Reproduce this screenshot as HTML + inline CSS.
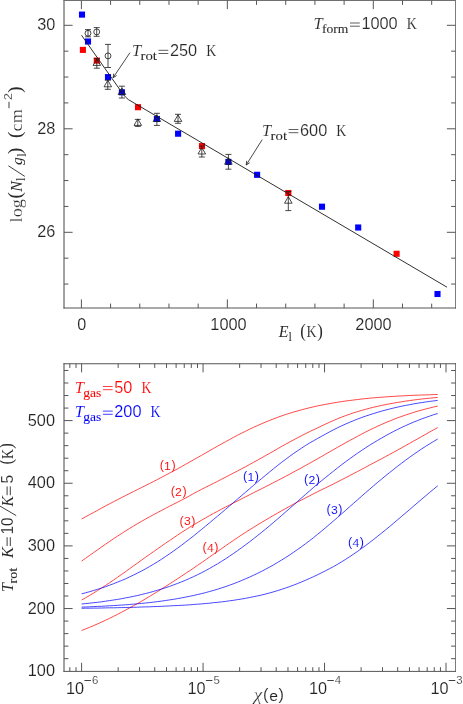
<!DOCTYPE html>
<html><head><meta charset="utf-8"><title>chart</title>
<style>html,body{margin:0;padding:0;background:#fff}svg{display:block;fill:#222}text{font-family:"Liberation Sans",sans-serif}.s{font-family:"Liberation Serif",serif}.i{font-family:"Liberation Serif",serif;font-style:italic}</style></head><body>
<svg width="463" height="704" viewBox="0 0 463 704">
<rect width="463" height="704" fill="#fff"/>
<g style="will-change:transform">
<g id="top">
<path d="M64.0,0.0 V308.5" stroke="#444" stroke-width="1" fill="none"/><path d="M455.5,0.0 V308.5" stroke="#7c7c7c" stroke-width="1" fill="none"/><path d="M63.5,0.5 H456.0" stroke="#707070" stroke-width="1" fill="none"/><path d="M63.5,308.0 H456.0" stroke="#555" stroke-width="1" fill="none"/>
<path d="M81.40,308.0 v-8.6 M81.40,0.5 v8.6 M110.59,308.0 v-4.4 M110.59,0.5 v4.4 M139.78,308.0 v-4.4 M139.78,0.5 v4.4 M168.97,308.0 v-4.4 M168.97,0.5 v4.4 M198.16,308.0 v-4.4 M198.16,0.5 v4.4 M227.35,308.0 v-8.6 M227.35,0.5 v8.6 M256.54,308.0 v-4.4 M256.54,0.5 v4.4 M285.73,308.0 v-4.4 M285.73,0.5 v4.4 M314.92,308.0 v-4.4 M314.92,0.5 v4.4 M344.11,308.0 v-4.4 M344.11,0.5 v4.4 M373.30,308.0 v-8.6 M373.30,0.5 v8.6 M402.49,308.0 v-4.4 M402.49,0.5 v4.4 M431.68,308.0 v-4.4 M431.68,0.5 v4.4 M64.0,25.30 h8.6 M455.5,25.30 h-8.6 M64.0,51.17 h4.4 M455.5,51.17 h-4.4 M64.0,77.05 h4.4 M455.5,77.05 h-4.4 M64.0,102.92 h4.4 M455.5,102.92 h-4.4 M64.0,128.80 h8.6 M455.5,128.80 h-8.6 M64.0,154.68 h4.4 M455.5,154.68 h-4.4 M64.0,180.55 h4.4 M455.5,180.55 h-4.4 M64.0,206.43 h4.4 M455.5,206.43 h-4.4 M64.0,232.30 h8.6 M455.5,232.30 h-8.6 M64.0,258.18 h4.4 M455.5,258.18 h-4.4 M64.0,284.05 h4.4 M455.5,284.05 h-4.4" fill="none" stroke="#555" stroke-width="1.0"/>
<text x="81.8" y="329.9" font-size="15.9" text-anchor="middle" textLength="9.0" lengthAdjust="spacingAndGlyphs" stroke="#fff" stroke-width="0.14">0</text>
<text x="228.5" y="329.9" font-size="15.9" text-anchor="middle" textLength="36.3" lengthAdjust="spacingAndGlyphs" stroke="#fff" stroke-width="0.14">1000</text>
<text x="373.5" y="329.9" font-size="15.9" text-anchor="middle" textLength="36.3" lengthAdjust="spacingAndGlyphs" stroke="#fff" stroke-width="0.14">2000</text>
<text x="55.3" y="30.3" font-size="15.9" text-anchor="end" textLength="18.1" lengthAdjust="spacingAndGlyphs" stroke="#fff" stroke-width="0.14">30</text>
<text x="55.3" y="133.9" font-size="15.9" text-anchor="end" textLength="18.1" lengthAdjust="spacingAndGlyphs" stroke="#fff" stroke-width="0.14">28</text>
<text x="55.3" y="237.4" font-size="15.9" text-anchor="end" textLength="18.1" lengthAdjust="spacingAndGlyphs" stroke="#fff" stroke-width="0.14">26</text>
<rect x="78.95" y="11.55" width="6.1" height="6.1" fill="#0000ff"/>
<rect x="84.95" y="38.45" width="6.1" height="6.1" fill="#0000ff"/>
<rect x="104.95" y="74.05" width="6.1" height="6.1" fill="#0000ff"/>
<rect x="118.85" y="89.25" width="6.1" height="6.1" fill="#0000ff"/>
<rect x="153.85" y="115.95" width="6.1" height="6.1" fill="#0000ff"/>
<rect x="175.05" y="130.65" width="6.1" height="6.1" fill="#0000ff"/>
<rect x="225.35" y="158.85" width="6.1" height="6.1" fill="#0000ff"/>
<rect x="254.05" y="171.75" width="6.1" height="6.1" fill="#0000ff"/>
<rect x="318.95" y="203.65" width="6.1" height="6.1" fill="#0000ff"/>
<rect x="355.15" y="224.45" width="6.1" height="6.1" fill="#0000ff"/>
<rect x="434.45" y="290.95" width="6.1" height="6.1" fill="#0000ff"/>
<rect x="79.85" y="46.85" width="6.1" height="6.1" fill="#ff0000"/>
<rect x="93.75" y="57.55" width="6.1" height="6.1" fill="#ff0000"/>
<rect x="134.95" y="104.15" width="6.1" height="6.1" fill="#ff0000"/>
<rect x="198.95" y="143.05" width="6.1" height="6.1" fill="#ff0000"/>
<rect x="285.25" y="189.95" width="6.1" height="6.1" fill="#ff0000"/>
<rect x="393.55" y="250.75" width="6.1" height="6.1" fill="#ff0000"/>
<path d="M81.5,35.2 L122.6,93.5 Q125.4,97.4 128.5,99.7 L447,287.2" fill="none" stroke="#1a1a1a" stroke-width="0.9"/>
<path d="M88.00,29.60 V36.80 M85.00,29.60 h6.0 M85.00,36.80 h6.0" fill="none" stroke="#1a1a1a" stroke-width="0.8"/>
<circle cx="88" cy="33.2" r="2.95" fill="none" stroke="#1a1a1a" stroke-width="0.8"/>
<path d="M96.70,27.60 V36.30 M93.70,27.60 h6.0 M93.70,36.30 h6.0" fill="none" stroke="#1a1a1a" stroke-width="0.8"/>
<circle cx="96.7" cy="31.9" r="2.95" fill="none" stroke="#1a1a1a" stroke-width="0.8"/>
<path d="M108.00,44.40 V67.50 M105.00,44.40 h6.0 M105.00,67.50 h6.0" fill="none" stroke="#1a1a1a" stroke-width="0.8"/>
<circle cx="108" cy="55.9" r="2.95" fill="none" stroke="#1a1a1a" stroke-width="0.8"/>
<path d="M96.80,58.60 V68.20 M93.80,58.60 h6.0 M93.80,68.20 h6.0" fill="none" stroke="#1a1a1a" stroke-width="0.8"/>
<path d="M96.80,58.90 L100.60,65.40 H93.00 Z" fill="none" stroke="#1a1a1a" stroke-width="0.8"/>
<path d="M107.80,80.20 V89.30 M104.80,80.20 h6.0 M104.80,89.30 h6.0" fill="none" stroke="#1a1a1a" stroke-width="0.8"/>
<path d="M107.80,80.30 L111.60,86.80 H104.00 Z" fill="none" stroke="#1a1a1a" stroke-width="0.8"/>
<path d="M121.90,86.20 V98.00 M118.90,86.20 h6.0 M118.90,98.00 h6.0" fill="none" stroke="#1a1a1a" stroke-width="0.8"/>
<path d="M121.90,88.00 L125.70,94.50 H118.10 Z" fill="none" stroke="#1a1a1a" stroke-width="0.8"/>
<path d="M137.80,119.40 V126.40 M134.80,119.40 h6.0 M134.80,126.40 h6.0" fill="none" stroke="#1a1a1a" stroke-width="0.8"/>
<path d="M137.80,118.90 L141.60,125.40 H134.00 Z" fill="none" stroke="#1a1a1a" stroke-width="0.8"/>
<path d="M156.90,113.30 V125.40 M153.90,113.30 h6.0 M153.90,125.40 h6.0" fill="none" stroke="#1a1a1a" stroke-width="0.8"/>
<path d="M156.90,115.00 L160.70,121.50 H153.10 Z" fill="none" stroke="#1a1a1a" stroke-width="0.8"/>
<path d="M178.00,114.30 V123.30 M175.00,114.30 h6.0 M175.00,123.30 h6.0" fill="none" stroke="#1a1a1a" stroke-width="0.8"/>
<path d="M178.00,114.90 L181.80,121.40 H174.20 Z" fill="none" stroke="#1a1a1a" stroke-width="0.8"/>
<path d="M201.80,146.00 V157.00 M198.80,146.00 h6.0 M198.80,157.00 h6.0" fill="none" stroke="#1a1a1a" stroke-width="0.8"/>
<path d="M201.80,147.50 L205.60,154.00 H198.00 Z" fill="none" stroke="#1a1a1a" stroke-width="0.8"/>
<path d="M228.40,154.40 V169.20 M225.40,154.40 h6.0 M225.40,169.20 h6.0" fill="none" stroke="#1a1a1a" stroke-width="0.8"/>
<path d="M228.40,157.70 L232.20,164.20 H224.60 Z" fill="none" stroke="#1a1a1a" stroke-width="0.8"/>
<path d="M288.30,191.60 V210.60 M285.30,191.60 h6.0 M285.30,210.60 h6.0" fill="none" stroke="#1a1a1a" stroke-width="0.8"/>
<path d="M288.30,196.70 L292.10,203.20 H284.50 Z" fill="none" stroke="#1a1a1a" stroke-width="0.8"/>
<path d="M130,52.6 L113.1,77.7 M113.1,77.7 L116.70,75.53 M113.1,77.7 L113.75,73.55" fill="none" stroke="#1a1a1a" stroke-width="0.8"/>
<path d="M262.2,139.6 L246.2,165 M246.2,165 L249.73,162.73 M246.2,165 L246.73,160.83" fill="none" stroke="#1a1a1a" stroke-width="0.8"/>
<g fill="#2a2a2a" font-size="16" class="s"><text x="131.9" y="56.4" class="i" font-size="16.5" stroke="#fff" stroke-width="0.1">T</text><text x="140.5" y="60.3" font-size="13.5" class="s" textLength="16.4" lengthAdjust="spacingAndGlyphs" stroke="#2a2a2a" stroke-width="0.08">rot</text><path d="M158.5,50.3 h9.8 M158.5,53.5 h9.8" stroke="#2a2a2a" stroke-width="0.75" fill="none"/><text x="169.9" y="56.4" font-size="15.9" style="font-family:'Liberation Sans',sans-serif"  textLength="27.2" lengthAdjust="spacingAndGlyphs" stroke="#fff" stroke-width="0.14">250</text><text x="206.2" y="56.4" font-size="16.3" class="s" textLength="10" lengthAdjust="spacingAndGlyphs" stroke="#fff" stroke-width="0.1">K</text></g>
<g fill="#2a2a2a" font-size="16" class="s"><text x="262.0" y="135.6" class="i" font-size="16.5" stroke="#fff" stroke-width="0.1">T</text><text x="270.6" y="139.5" font-size="13.5" class="s" textLength="16.4" lengthAdjust="spacingAndGlyphs" stroke="#2a2a2a" stroke-width="0.08">rot</text><path d="M288.6,129.5 h9.8 M288.6,132.7 h9.8" stroke="#2a2a2a" stroke-width="0.75" fill="none"/><text x="300.0" y="135.6" font-size="15.9" style="font-family:'Liberation Sans',sans-serif"  textLength="27.2" lengthAdjust="spacingAndGlyphs" stroke="#fff" stroke-width="0.14">600</text><text x="336.3" y="135.6" font-size="16.3" class="s" textLength="10" lengthAdjust="spacingAndGlyphs" stroke="#fff" stroke-width="0.1">K</text></g>
<g fill="#2a2a2a" font-size="16" class="s"><text x="313.4" y="29.1" class="i" font-size="16.5" stroke="#fff" stroke-width="0.1">T</text><text x="322.0" y="33.0" font-size="13.5" class="s" textLength="26.4" lengthAdjust="spacingAndGlyphs" stroke="#2a2a2a" stroke-width="0.08">form</text><path d="M350.0,23.0 h9.8 M350.0,26.200000000000003 h9.8" stroke="#2a2a2a" stroke-width="0.75" fill="none"/><text x="361.4" y="29.1" font-size="15.9" style="font-family:'Liberation Sans',sans-serif"  textLength="36.3" lengthAdjust="spacingAndGlyphs" stroke="#fff" stroke-width="0.14">1000</text><text x="406.8" y="29.1" font-size="16.3" class="s" textLength="10" lengthAdjust="spacingAndGlyphs" stroke="#fff" stroke-width="0.1">K</text></g>
<g class="s" fill="#2a2a2a"><text x="278.8" y="337.4" font-size="16" class="i">E</text><text x="288.4" y="340.9" font-size="12" class="s">l</text><text x="300.2" y="336.6" font-size="18" class="s" textLength="5.6" lengthAdjust="spacingAndGlyphs">(</text><text x="306.4" y="337.4" font-size="16.3" class="s" textLength="10" lengthAdjust="spacingAndGlyphs" stroke="#fff" stroke-width="0.1">K</text><text x="317.2" y="336.6" font-size="18" class="s" textLength="5.6" lengthAdjust="spacingAndGlyphs">)</text></g>
<g transform="translate(21.8,222.4) rotate(-90)" fill="#2a2a2a"><text x="0" y="0" font-size="16" class="s" textLength="23.4" lengthAdjust="spacingAndGlyphs" stroke="#fff" stroke-width="0.2">log</text><text x="24.0" y="-0.8" font-size="18" class="s" textLength="6.4" lengthAdjust="spacingAndGlyphs">(</text><text x="30.6" y="0" font-size="16" class="i" textLength="10.6" lengthAdjust="spacingAndGlyphs">N</text><text x="41.4" y="3.4" font-size="12" class="s">l</text><path d="M46.0,3.0 L56.6,-13.4" stroke="#2a2a2a" stroke-width="0.9" fill="none"/><text x="57.4" y="0" font-size="15.5" class="i" textLength="7.8" lengthAdjust="spacingAndGlyphs">g</text><text x="65.6" y="3.8" font-size="12" class="s">l</text><text x="68.4" y="-0.8" font-size="18" class="s" textLength="6.2" lengthAdjust="spacingAndGlyphs">)</text><text x="84.4" y="-0.8" font-size="18" class="s" textLength="6.4" lengthAdjust="spacingAndGlyphs">(</text><text x="91.0" y="0" font-size="17" class="s" textLength="22.2" lengthAdjust="spacingAndGlyphs" stroke="#fff" stroke-width="0.2">cm</text><path d="M114.2,-12.8 h6.4" stroke="#2a2a2a" stroke-width="0.9" fill="none"/><text x="122.2" y="-9.6" font-size="11.5" class="s" textLength="7.2" lengthAdjust="spacingAndGlyphs" style="font-family:'Liberation Sans',sans-serif" stroke="#fff" stroke-width="0.14">2</text><text x="129.6" y="-0.8" font-size="18" class="s" textLength="6.2" lengthAdjust="spacingAndGlyphs">)</text></g>
</g>
<g id="bot">
<path d="M64.0,363.25 V671.9" stroke="#444" stroke-width="1" fill="none"/><path d="M455.5,363.25 V671.9" stroke="#7c7c7c" stroke-width="1" fill="none"/><path d="M63.5,363.75 H456.0" stroke="#555" stroke-width="1" fill="none"/><path d="M63.5,671.4 H456.0" stroke="#555" stroke-width="1" fill="none"/>
<path d="M69.83,671.4 v-4.2 M69.83,363.75 v4.2 M76.04,671.4 v-4.2 M76.04,363.75 v4.2 M81.60,671.4 v-8.6 M81.60,363.75 v8.6 M118.17,671.4 v-4.2 M118.17,363.75 v4.2 M139.56,671.4 v-4.2 M139.56,363.75 v4.2 M154.73,671.4 v-4.2 M154.73,363.75 v4.2 M166.50,671.4 v-4.2 M166.50,363.75 v4.2 M176.12,671.4 v-4.2 M176.12,363.75 v4.2 M184.25,671.4 v-4.2 M184.25,363.75 v4.2 M191.30,671.4 v-4.2 M191.30,363.75 v4.2 M197.51,671.4 v-4.2 M197.51,363.75 v4.2 M203.07,671.4 v-8.6 M203.07,363.75 v8.6 M239.64,671.4 v-4.2 M239.64,363.75 v4.2 M261.03,671.4 v-4.2 M261.03,363.75 v4.2 M276.20,671.4 v-4.2 M276.20,363.75 v4.2 M287.97,671.4 v-4.2 M287.97,363.75 v4.2 M297.59,671.4 v-4.2 M297.59,363.75 v4.2 M305.72,671.4 v-4.2 M305.72,363.75 v4.2 M312.77,671.4 v-4.2 M312.77,363.75 v4.2 M318.98,671.4 v-4.2 M318.98,363.75 v4.2 M324.54,671.4 v-8.6 M324.54,363.75 v8.6 M361.11,671.4 v-4.2 M361.11,363.75 v4.2 M382.50,671.4 v-4.2 M382.50,363.75 v4.2 M397.67,671.4 v-4.2 M397.67,363.75 v4.2 M409.44,671.4 v-4.2 M409.44,363.75 v4.2 M419.06,671.4 v-4.2 M419.06,363.75 v4.2 M427.19,671.4 v-4.2 M427.19,363.75 v4.2 M434.24,671.4 v-4.2 M434.24,363.75 v4.2 M440.45,671.4 v-4.2 M440.45,363.75 v4.2 M446.01,671.4 v-8.6 M446.01,363.75 v8.6 M64.0,658.67 h4.4 M455.5,658.67 h-4.4 M64.0,646.14 h4.4 M455.5,646.14 h-4.4 M64.0,633.61 h4.4 M455.5,633.61 h-4.4 M64.0,621.08 h4.4 M455.5,621.08 h-4.4 M64.0,608.55 h8.6 M455.5,608.55 h-8.6 M64.0,596.02 h4.4 M455.5,596.02 h-4.4 M64.0,583.49 h4.4 M455.5,583.49 h-4.4 M64.0,570.96 h4.4 M455.5,570.96 h-4.4 M64.0,558.43 h4.4 M455.5,558.43 h-4.4 M64.0,545.90 h8.6 M455.5,545.90 h-8.6 M64.0,533.37 h4.4 M455.5,533.37 h-4.4 M64.0,520.84 h4.4 M455.5,520.84 h-4.4 M64.0,508.31 h4.4 M455.5,508.31 h-4.4 M64.0,495.78 h4.4 M455.5,495.78 h-4.4 M64.0,483.25 h8.6 M455.5,483.25 h-8.6 M64.0,470.72 h4.4 M455.5,470.72 h-4.4 M64.0,458.19 h4.4 M455.5,458.19 h-4.4 M64.0,445.66 h4.4 M455.5,445.66 h-4.4 M64.0,433.13 h4.4 M455.5,433.13 h-4.4 M64.0,420.60 h8.6 M455.5,420.60 h-8.6 M64.0,408.07 h4.4 M455.5,408.07 h-4.4 M64.0,395.54 h4.4 M455.5,395.54 h-4.4 M64.0,383.01 h4.4 M455.5,383.01 h-4.4 M64.0,370.48 h4.4 M455.5,370.48 h-4.4" fill="none" stroke="#555" stroke-width="1.0"/>
<text x="55" y="676.2" font-size="15.9" text-anchor="end" textLength="27.2" lengthAdjust="spacingAndGlyphs" stroke="#fff" stroke-width="0.14">100</text>
<text x="55" y="613.6" font-size="15.9" text-anchor="end" textLength="27.2" lengthAdjust="spacingAndGlyphs" stroke="#fff" stroke-width="0.14">200</text>
<text x="55" y="550.9" font-size="15.9" text-anchor="end" textLength="27.2" lengthAdjust="spacingAndGlyphs" stroke="#fff" stroke-width="0.14">300</text>
<text x="55" y="488.3" font-size="15.9" text-anchor="end" textLength="27.2" lengthAdjust="spacingAndGlyphs" stroke="#fff" stroke-width="0.14">400</text>
<text x="55" y="425.6" font-size="15.9" text-anchor="end" textLength="27.2" lengthAdjust="spacingAndGlyphs" stroke="#fff" stroke-width="0.14">500</text>
<text x="66.0" y="693.5" font-size="15.9" textLength="18.1" lengthAdjust="spacingAndGlyphs" stroke="#fff" stroke-width="0.14">10</text><path d="M84.4,680.5 h6.5" stroke="#2a2a2a" stroke-width="0.9" fill="none"/><text x="91.9" y="684.4" font-size="11.4" stroke="#fff" stroke-width="0.2">6</text>
<text x="187.5" y="693.5" font-size="15.9" textLength="18.1" lengthAdjust="spacingAndGlyphs" stroke="#fff" stroke-width="0.14">10</text><path d="M205.9,680.5 h6.5" stroke="#2a2a2a" stroke-width="0.9" fill="none"/><text x="213.4" y="684.4" font-size="11.4" stroke="#fff" stroke-width="0.2">5</text>
<text x="308.9" y="693.5" font-size="15.9" textLength="18.1" lengthAdjust="spacingAndGlyphs" stroke="#fff" stroke-width="0.14">10</text><path d="M327.3,680.5 h6.5" stroke="#2a2a2a" stroke-width="0.9" fill="none"/><text x="334.8" y="684.4" font-size="11.4" stroke="#fff" stroke-width="0.2">4</text>
<text x="430.4" y="693.5" font-size="15.9" textLength="18.1" lengthAdjust="spacingAndGlyphs" stroke="#fff" stroke-width="0.14">10</text><path d="M448.8,680.5 h6.5" stroke="#2a2a2a" stroke-width="0.9" fill="none"/><text x="456.3" y="684.4" font-size="11.4" stroke="#fff" stroke-width="0.2">3</text>
<path d="M81.6,519.0 L85.6,516.8 L89.6,514.6 L93.6,512.5 L97.6,510.3 L101.6,508.1 L105.6,505.9 L109.6,503.8 L113.6,501.7 L117.6,499.6 L121.6,497.6 L125.6,495.5 L129.6,493.5 L133.6,491.5 L137.6,489.5 L141.6,487.5 L145.6,485.5 L149.6,483.5 L153.6,481.5 L157.6,479.4 L161.6,477.3 L165.6,475.2 L169.6,473.1 L173.6,471.0 L177.6,468.8 L181.6,466.6 L185.6,464.3 L189.6,462.1 L193.6,459.8 L197.6,457.5 L201.6,455.3 L205.6,453.0 L209.6,450.7 L213.6,448.4 L217.6,446.1 L221.6,443.9 L225.6,441.7 L229.6,439.5 L233.6,437.3 L237.6,435.2 L241.6,433.2 L245.6,431.2 L249.6,429.2 L253.6,427.3 L257.6,425.5 L261.7,423.7 L265.7,422.0 L269.7,420.4 L273.7,418.8 L277.7,417.3 L281.7,415.9 L285.7,414.5 L289.7,413.3 L293.7,412.0 L297.7,410.9 L301.7,409.8 L305.7,408.7 L309.7,407.7 L313.7,406.8 L317.7,405.9 L321.7,405.1 L325.7,404.3 L329.7,403.6 L333.7,402.9 L337.7,402.2 L341.7,401.6 L345.7,401.0 L349.7,400.5 L353.7,400.0 L357.7,399.5 L361.7,399.0 L365.7,398.6 L369.7,398.2 L373.7,397.8 L377.7,397.5 L381.7,397.2 L385.7,396.9 L389.7,396.6 L393.7,396.4 L397.7,396.1 L401.7,395.9 L405.7,395.7 L409.7,395.5 L413.7,395.3 L417.7,395.2 L421.7,395.0 L425.7,394.9 L429.7,394.8 L433.7,394.6 L437.7,394.5" fill="none" stroke="#ff0000" stroke-width="0.72" stroke-linejoin="round"/>
<path d="M81.6,561.1 L85.6,558.3 L89.6,555.4 L93.6,552.6 L97.6,549.8 L101.6,547.0 L105.6,544.2 L109.6,541.4 L113.6,538.7 L117.6,536.1 L121.6,533.5 L125.6,530.9 L129.6,528.4 L133.6,526.0 L137.6,523.6 L141.6,521.3 L145.6,519.0 L149.6,516.8 L153.6,514.6 L157.6,512.5 L161.6,510.4 L165.6,508.3 L169.6,506.2 L173.6,504.2 L177.6,502.2 L181.6,500.1 L185.6,498.0 L189.6,495.8 L193.6,493.5 L197.6,491.4 L201.6,489.3 L205.6,487.3 L209.6,485.3 L213.6,483.3 L217.6,481.3 L221.6,479.2 L225.6,477.2 L229.6,475.1 L233.6,473.0 L237.6,470.9 L241.6,468.8 L245.6,466.7 L249.6,464.5 L253.6,462.3 L257.6,460.1 L261.7,457.8 L265.7,455.5 L269.7,453.3 L273.7,451.0 L277.7,448.7 L281.7,446.4 L285.7,444.2 L289.7,442.0 L293.7,439.8 L297.7,437.7 L301.7,435.6 L305.7,433.6 L309.7,431.6 L313.7,429.7 L317.7,427.8 L321.7,425.9 L325.7,424.0 L329.7,422.2 L333.7,420.4 L337.7,418.7 L341.7,417.1 L345.7,415.6 L349.7,414.2 L353.7,412.8 L357.7,411.6 L361.7,410.4 L365.7,409.3 L369.7,408.2 L373.7,407.2 L377.7,406.3 L381.7,405.4 L385.7,404.6 L389.7,403.8 L393.7,403.1 L397.7,402.4 L401.7,401.8 L405.7,401.1 L409.7,400.6 L413.7,400.0 L417.7,399.5 L421.7,399.0 L425.7,398.6 L429.7,398.2 L433.7,397.8 L437.7,397.4" fill="none" stroke="#ff0000" stroke-width="0.72" stroke-linejoin="round"/>
<path d="M81.6,600.0 L85.6,597.8 L89.6,595.4 L93.6,593.0 L97.6,590.5 L101.6,588.0 L105.6,585.4 L109.6,582.7 L113.6,580.0 L117.6,577.2 L121.6,574.4 L125.6,571.6 L129.6,568.7 L133.6,565.8 L137.6,563.0 L141.6,560.1 L145.6,557.2 L149.6,554.4 L153.6,551.6 L157.6,548.8 L161.6,546.0 L165.6,543.2 L169.6,540.5 L173.6,537.8 L177.6,535.1 L181.6,532.4 L185.6,529.9 L189.6,527.3 L193.6,524.9 L197.6,522.5 L201.6,520.2 L205.6,517.9 L209.6,515.6 L213.6,513.4 L217.6,511.3 L221.6,509.1 L225.6,507.0 L229.6,505.0 L233.6,502.9 L237.6,500.9 L241.6,498.8 L245.6,496.8 L249.6,494.8 L253.6,492.7 L257.6,490.7 L261.7,488.7 L265.7,486.6 L269.7,484.6 L273.7,482.5 L277.7,480.5 L281.7,478.4 L285.7,476.3 L289.7,474.2 L293.7,472.0 L297.7,469.8 L301.7,467.7 L305.7,465.4 L309.7,463.2 L313.7,461.0 L317.7,458.7 L321.7,456.4 L325.7,454.1 L329.7,451.8 L333.7,449.5 L337.7,447.2 L341.7,445.0 L345.7,442.7 L349.7,440.5 L353.7,438.4 L357.7,436.2 L361.7,434.1 L365.7,432.0 L369.7,430.0 L373.7,428.1 L377.7,426.2 L381.7,424.4 L385.7,422.6 L389.7,421.0 L393.7,419.4 L397.7,417.8 L401.7,416.4 L405.7,415.0 L409.7,413.7 L413.7,412.4 L417.7,411.2 L421.7,410.1 L425.7,409.0 L429.7,408.0 L433.7,407.0 L437.7,406.1" fill="none" stroke="#ff0000" stroke-width="0.72" stroke-linejoin="round"/>
<path d="M81.6,630.5 L85.6,628.9 L89.6,627.3 L93.6,625.6 L97.6,623.9 L101.6,622.1 L105.6,620.2 L109.6,618.3 L113.6,616.3 L117.6,614.3 L121.6,612.2 L125.6,610.1 L129.6,607.9 L133.6,605.7 L137.6,603.5 L141.6,601.2 L145.6,598.8 L149.6,596.4 L153.6,594.0 L157.6,591.5 L161.6,589.0 L165.6,586.5 L169.6,583.9 L173.6,581.3 L177.6,578.7 L181.6,576.1 L185.6,573.4 L189.6,570.8 L193.6,568.1 L197.6,565.3 L201.6,562.6 L205.6,559.8 L209.6,557.0 L213.6,554.2 L217.6,551.4 L221.6,548.6 L225.6,545.8 L229.6,543.0 L233.6,540.3 L237.6,537.6 L241.6,534.9 L245.6,532.3 L249.6,529.8 L253.6,527.3 L257.6,524.8 L261.7,522.4 L265.7,520.0 L269.7,517.6 L273.7,515.3 L277.7,513.0 L281.7,510.7 L285.7,508.5 L289.7,506.3 L293.7,504.1 L297.7,502.0 L301.7,499.9 L305.7,497.8 L309.7,495.8 L313.7,493.7 L317.7,491.7 L321.7,489.7 L325.7,487.8 L329.7,485.8 L333.7,483.8 L337.7,481.8 L341.7,479.7 L345.7,477.7 L349.7,475.6 L353.7,473.5 L357.7,471.4 L361.7,469.3 L365.7,467.2 L369.7,465.0 L373.7,462.9 L377.7,460.8 L381.7,458.7 L385.7,456.5 L389.7,454.3 L393.7,452.2 L397.7,450.0 L401.7,447.8 L405.7,445.5 L409.7,443.3 L413.7,441.0 L417.7,438.8 L421.7,436.5 L425.7,434.3 L429.7,432.0 L433.7,429.8 L437.7,427.6" fill="none" stroke="#ff0000" stroke-width="0.72" stroke-linejoin="round"/>
<path d="M81.6,593.8 L85.6,592.8 L89.6,591.7 L93.6,590.5 L97.6,589.3 L101.6,588.0 L105.6,586.7 L109.6,585.2 L113.6,583.7 L117.6,582.1 L121.6,580.5 L125.6,578.8 L129.6,576.9 L133.6,575.0 L137.6,573.0 L141.6,571.0 L145.6,568.8 L149.6,566.5 L153.6,564.2 L157.6,561.7 L161.6,559.2 L165.6,556.5 L169.6,553.8 L173.6,551.0 L177.6,548.1 L181.6,545.2 L185.6,542.1 L189.6,539.0 L193.6,535.9 L197.6,532.6 L201.6,529.4 L205.6,526.1 L209.6,522.8 L213.6,519.4 L217.6,516.1 L221.6,512.7 L225.6,509.3 L229.6,505.9 L233.6,502.4 L237.6,499.0 L241.6,495.6 L245.6,492.2 L249.6,488.7 L253.6,485.3 L257.6,481.9 L261.7,478.5 L265.7,475.2 L269.7,471.9 L273.7,468.6 L277.7,465.4 L281.7,462.3 L285.7,459.3 L289.7,456.3 L293.7,453.4 L297.7,450.7 L301.7,448.0 L305.7,445.4 L309.7,442.9 L313.7,440.7 L317.7,438.4 L321.7,436.2 L325.7,434.0 L329.7,431.8 L333.7,429.7 L337.7,427.7 L341.7,425.8 L345.7,424.0 L349.7,422.3 L353.7,420.6 L357.7,419.0 L361.7,417.5 L365.7,416.1 L369.7,414.8 L373.7,413.5 L377.7,412.3 L381.7,411.1 L385.7,410.0 L389.7,409.0 L393.7,408.0 L397.7,407.1 L401.7,406.2 L405.7,405.4 L409.7,404.7 L413.7,403.9 L417.7,403.2 L421.7,402.6 L425.7,402.0 L429.7,401.4 L433.7,400.9 L437.7,400.4" fill="none" stroke="#0000ff" stroke-width="0.72" stroke-linejoin="round"/>
<path d="M81.6,604.0 L85.6,603.6 L89.6,603.2 L93.6,602.7 L97.6,602.3 L101.6,601.8 L105.6,601.2 L109.6,600.6 L113.6,600.0 L117.6,599.4 L121.6,598.7 L125.6,597.9 L129.6,597.2 L133.6,596.3 L137.6,595.5 L141.6,594.5 L145.6,593.5 L149.6,592.5 L153.6,591.4 L157.6,590.2 L161.6,589.0 L165.6,587.7 L169.6,586.4 L173.6,584.9 L177.6,583.4 L181.6,581.8 L185.6,580.2 L189.6,578.4 L193.6,576.6 L197.6,574.7 L201.6,572.7 L205.6,570.6 L209.6,568.4 L213.6,566.1 L217.6,563.8 L221.6,561.3 L225.6,558.8 L229.6,556.1 L233.6,553.4 L237.6,550.6 L241.6,547.7 L245.6,544.8 L249.6,541.8 L253.6,538.7 L257.6,535.5 L261.7,532.3 L265.7,529.0 L269.7,525.7 L273.7,522.3 L277.7,518.9 L281.7,515.4 L285.7,511.9 L289.7,508.4 L293.7,504.9 L297.7,501.3 L301.7,497.8 L305.7,494.3 L309.7,490.8 L313.7,487.3 L317.7,483.8 L321.7,480.6 L325.7,477.4 L329.7,474.2 L333.7,471.0 L337.7,467.8 L341.7,464.7 L345.7,461.7 L349.7,458.8 L353.7,455.9 L357.7,453.1 L361.7,450.4 L365.7,447.7 L369.7,445.2 L373.7,442.7 L377.7,440.3 L381.7,438.0 L385.7,435.7 L389.7,433.5 L393.7,431.4 L397.7,429.4 L401.7,427.4 L405.7,425.6 L409.7,423.8 L413.7,422.1 L417.7,420.5 L421.7,418.9 L425.7,417.5 L429.7,416.1 L433.7,414.7 L437.7,413.5" fill="none" stroke="#0000ff" stroke-width="0.72" stroke-linejoin="round"/>
<path d="M81.6,607.1 L85.6,607.0 L89.6,606.8 L93.6,606.6 L97.6,606.4 L101.6,606.3 L105.6,606.0 L109.6,605.8 L113.6,605.6 L117.6,605.3 L121.6,605.1 L125.6,604.8 L129.6,604.5 L133.6,604.1 L137.6,603.8 L141.6,603.4 L145.6,603.0 L149.6,602.6 L153.6,602.1 L157.6,601.6 L161.6,601.1 L165.6,600.5 L169.6,599.9 L173.6,599.3 L177.6,598.6 L181.6,597.9 L185.6,597.1 L189.6,596.3 L193.6,595.5 L197.6,594.5 L201.6,593.6 L205.6,592.6 L209.6,591.5 L213.6,590.4 L217.6,589.2 L221.6,587.9 L225.6,586.6 L229.6,585.2 L233.6,583.7 L237.6,582.2 L241.6,580.5 L245.6,578.8 L249.6,577.1 L253.6,575.2 L257.6,573.3 L261.7,571.3 L265.7,569.2 L269.7,567.0 L273.7,564.8 L277.7,562.4 L281.7,560.0 L285.7,557.5 L289.7,554.9 L293.7,552.2 L297.7,549.4 L301.7,546.6 L305.7,543.6 L309.7,540.6 L313.7,537.5 L317.7,534.2 L321.7,531.0 L325.7,527.6 L329.7,524.2 L333.7,520.8 L337.7,517.3 L341.7,513.8 L345.7,510.3 L349.7,506.7 L353.7,503.2 L357.7,499.7 L361.7,496.1 L365.7,492.6 L369.7,489.2 L373.7,485.7 L377.7,482.3 L381.7,479.0 L385.7,475.7 L389.7,472.5 L393.7,469.3 L397.7,466.2 L401.7,463.1 L405.7,460.1 L409.7,457.2 L413.7,454.4 L417.7,451.6 L421.7,448.9 L425.7,446.3 L429.7,443.8 L433.7,441.4 L437.7,439.0" fill="none" stroke="#0000ff" stroke-width="0.72" stroke-linejoin="round"/>
<path d="M81.6,608.3 L85.6,608.2 L89.6,608.2 L93.6,608.1 L97.6,608.1 L101.6,608.0 L105.6,607.9 L109.6,607.8 L113.6,607.8 L117.6,607.7 L121.6,607.6 L125.6,607.5 L129.6,607.4 L133.6,607.3 L137.6,607.2 L141.6,607.0 L145.6,606.9 L149.6,606.8 L153.6,606.6 L157.6,606.5 L161.6,606.3 L165.6,606.1 L169.6,605.9 L173.6,605.7 L177.6,605.5 L181.6,605.3 L185.6,605.1 L189.6,604.8 L193.6,604.5 L197.6,604.2 L201.6,603.9 L205.6,603.5 L209.6,603.2 L213.6,602.7 L217.6,602.3 L221.6,601.9 L225.6,601.4 L229.6,600.8 L233.6,600.3 L237.6,599.6 L241.6,599.0 L245.6,598.3 L249.6,597.5 L253.6,596.7 L257.6,595.9 L261.7,595.0 L265.7,594.0 L269.7,592.9 L273.7,591.8 L277.7,590.6 L281.7,589.3 L285.7,588.0 L289.7,586.6 L293.7,585.1 L297.7,583.5 L301.7,581.9 L305.7,580.2 L309.7,578.4 L313.7,576.6 L317.7,574.7 L321.7,572.7 L325.7,570.7 L329.7,568.6 L333.7,566.5 L337.7,564.2 L341.7,561.8 L345.7,559.3 L349.7,556.7 L353.7,554.0 L357.7,551.3 L361.7,548.4 L365.7,545.5 L369.7,542.5 L373.7,539.4 L377.7,536.2 L381.7,533.0 L385.7,529.8 L389.7,526.5 L393.7,523.1 L397.7,519.7 L401.7,516.3 L405.7,512.9 L409.7,509.5 L413.7,506.0 L417.7,502.6 L421.7,499.2 L425.7,495.8 L429.7,492.4 L433.7,489.1 L437.7,485.8" fill="none" stroke="#0000ff" stroke-width="0.72" stroke-linejoin="round"/>
<g fill="#ff0000" style="font-family:'Liberation Sans',sans-serif"><text x="159.7" y="469.1" font-size="12.6" stroke="#fff" stroke-width="0.08">(</text><text x="167.4" y="469.8" font-size="11.2" text-anchor="middle" textLength="6.8" lengthAdjust="spacingAndGlyphs" stroke="#fff" stroke-width="0.08">1</text><text x="171.4" y="469.1" font-size="12.6" stroke="#fff" stroke-width="0.08">)</text></g>
<g fill="#ff0000" style="font-family:'Liberation Sans',sans-serif"><text x="170.7" y="495.2" font-size="12.6" stroke="#fff" stroke-width="0.08">(</text><text x="178.4" y="495.9" font-size="11.2" text-anchor="middle" textLength="6.8" lengthAdjust="spacingAndGlyphs" stroke="#fff" stroke-width="0.08">2</text><text x="182.4" y="495.2" font-size="12.6" stroke="#fff" stroke-width="0.08">)</text></g>
<g fill="#ff0000" style="font-family:'Liberation Sans',sans-serif"><text x="179.6" y="524.5" font-size="12.6" stroke="#fff" stroke-width="0.08">(</text><text x="187.3" y="525.2" font-size="11.2" text-anchor="middle" textLength="6.8" lengthAdjust="spacingAndGlyphs" stroke="#fff" stroke-width="0.08">3</text><text x="191.3" y="524.5" font-size="12.6" stroke="#fff" stroke-width="0.08">)</text></g>
<g fill="#ff0000" style="font-family:'Liberation Sans',sans-serif"><text x="202.6" y="551.1" font-size="12.6" stroke="#fff" stroke-width="0.08">(</text><text x="210.3" y="551.8" font-size="11.2" text-anchor="middle" textLength="6.8" lengthAdjust="spacingAndGlyphs" stroke="#fff" stroke-width="0.08">4</text><text x="214.3" y="551.1" font-size="12.6" stroke="#fff" stroke-width="0.08">)</text></g>
<g fill="#0000ff" style="font-family:'Liberation Sans',sans-serif"><text x="243.1" y="480.3" font-size="12.6" stroke="#fff" stroke-width="0.08">(</text><text x="250.8" y="481.0" font-size="11.2" text-anchor="middle" textLength="6.8" lengthAdjust="spacingAndGlyphs" stroke="#fff" stroke-width="0.08">1</text><text x="254.8" y="480.3" font-size="12.6" stroke="#fff" stroke-width="0.08">)</text></g>
<g fill="#0000ff" style="font-family:'Liberation Sans',sans-serif"><text x="304.1" y="482.8" font-size="12.6" stroke="#fff" stroke-width="0.08">(</text><text x="311.8" y="483.5" font-size="11.2" text-anchor="middle" textLength="6.8" lengthAdjust="spacingAndGlyphs" stroke="#fff" stroke-width="0.08">2</text><text x="315.8" y="482.8" font-size="12.6" stroke="#fff" stroke-width="0.08">)</text></g>
<g fill="#0000ff" style="font-family:'Liberation Sans',sans-serif"><text x="326.6" y="512.8" font-size="12.6" stroke="#fff" stroke-width="0.08">(</text><text x="334.3" y="513.5" font-size="11.2" text-anchor="middle" textLength="6.8" lengthAdjust="spacingAndGlyphs" stroke="#fff" stroke-width="0.08">3</text><text x="338.3" y="512.8" font-size="12.6" stroke="#fff" stroke-width="0.08">)</text></g>
<g fill="#0000ff" style="font-family:'Liberation Sans',sans-serif"><text x="348.1" y="546.3" font-size="12.6" stroke="#fff" stroke-width="0.08">(</text><text x="355.8" y="547.0" font-size="11.2" text-anchor="middle" textLength="6.8" lengthAdjust="spacingAndGlyphs" stroke="#fff" stroke-width="0.08">4</text><text x="359.8" y="546.3" font-size="12.6" stroke="#fff" stroke-width="0.08">)</text></g>
<g fill="#ff0000" font-size="16" class="s"><text x="74.7" y="392.6" class="i" font-size="16.5" stroke="#fff" stroke-width="0.1">T</text><text x="83.3" y="396.5" font-size="13.5" class="s" textLength="18.0" lengthAdjust="spacingAndGlyphs" stroke="#ff0000" stroke-width="0.08">gas</text><path d="M102.9,386.5 h9.8 M102.9,389.70000000000005 h9.8" stroke="#ff0000" stroke-width="0.75" fill="none"/><text x="114.3" y="392.6" font-size="15.9" style="font-family:'Liberation Sans',sans-serif"  textLength="18.1" lengthAdjust="spacingAndGlyphs" stroke="#fff" stroke-width="0.14">50</text><text x="141.5" y="392.6" font-size="16.3" class="s" textLength="10" lengthAdjust="spacingAndGlyphs" stroke="#fff" stroke-width="0.1">K</text></g>
<g fill="#0000ff" font-size="16" class="s"><text x="74.7" y="417.2" class="i" font-size="16.5" stroke="#fff" stroke-width="0.1">T</text><text x="83.3" y="421.09999999999997" font-size="13.5" class="s" textLength="18.0" lengthAdjust="spacingAndGlyphs" stroke="#0000ff" stroke-width="0.08">gas</text><path d="M102.9,411.09999999999997 h9.8 M102.9,414.3 h9.8" stroke="#0000ff" stroke-width="0.75" fill="none"/><text x="114.3" y="417.2" font-size="15.9" style="font-family:'Liberation Sans',sans-serif"  textLength="27.2" lengthAdjust="spacingAndGlyphs" stroke="#fff" stroke-width="0.14">200</text><text x="150.6" y="417.2" font-size="16.3" class="s" textLength="10" lengthAdjust="spacingAndGlyphs" stroke="#fff" stroke-width="0.1">K</text></g>
<text x="253.8" y="700.4" font-size="16.5" class="i" textLength="8.6" lengthAdjust="spacingAndGlyphs" stroke="#fff" stroke-width="0.25">χ</text><text x="263.0" y="700.4" font-size="16" style="font-family:'Liberation Sans',sans-serif" textLength="5.4" lengthAdjust="spacingAndGlyphs" stroke="#fff" stroke-width="0.14">(</text><text x="269.2" y="700.5" font-size="14.6" style="font-family:'Liberation Sans',sans-serif" textLength="8.8" lengthAdjust="spacingAndGlyphs" stroke="#fff" stroke-width="0.14">e</text><text x="278.4" y="700.4" font-size="16" style="font-family:'Liberation Sans',sans-serif" textLength="5.4" lengthAdjust="spacingAndGlyphs" stroke="#fff" stroke-width="0.14">)</text>
<g transform="translate(13.2,592.0) rotate(-90)" fill="#2a2a2a"><text x="0" y="0" font-size="16" class="i">T</text><text x="8.4" y="4.2" font-size="13.5" class="s" textLength="15.8" lengthAdjust="spacingAndGlyphs" stroke="#2a2a2a" stroke-width="0.08">rot</text><text x="34.0" y="0" font-size="16" class="i" textLength="11" lengthAdjust="spacingAndGlyphs">K</text><path d="M46.0,-6.1 h8.8 M46.0,-2.9 h8.8" stroke="#2a2a2a" stroke-width="0.9" fill="none"/><text x="57.4" y="0" font-size="15.9" class="s" textLength="17.0" lengthAdjust="spacingAndGlyphs" style="font-family:'Liberation Sans',sans-serif" stroke="#fff" stroke-width="0.14">10</text><path d="M76.4,3.0 L86.0,-13.4" stroke="#2a2a2a" stroke-width="0.9" fill="none"/><text x="85.4" y="0" font-size="16" class="i" textLength="10.4" lengthAdjust="spacingAndGlyphs">K</text><path d="M96.8,-6.1 h8.8 M96.8,-2.9 h8.8" stroke="#2a2a2a" stroke-width="0.9" fill="none"/><text x="108.4" y="0" font-size="15.9" class="s" textLength="8.6" lengthAdjust="spacingAndGlyphs" style="font-family:'Liberation Sans',sans-serif" stroke="#fff" stroke-width="0.14">5</text><text x="127.4" y="-0.8" font-size="18" class="s" textLength="5.6" lengthAdjust="spacingAndGlyphs">(</text><text x="133.0" y="0" font-size="16.3" class="s" textLength="10" lengthAdjust="spacingAndGlyphs">K</text><text x="143.2" y="-0.8" font-size="18" class="s" textLength="5.6" lengthAdjust="spacingAndGlyphs">)</text></g>
</g>
</g>
</svg></body></html>
